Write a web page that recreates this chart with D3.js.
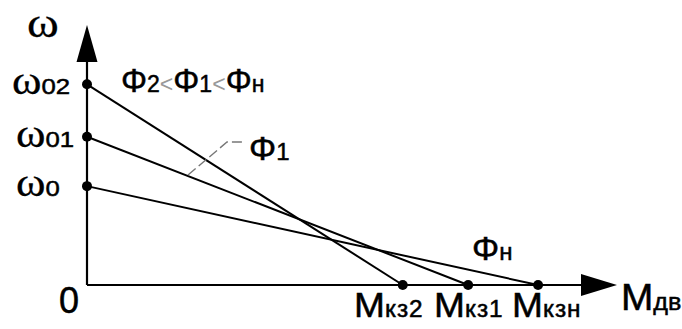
<!DOCTYPE html>
<html>
<head>
<meta charset="utf-8">
<script src="https://cdn.jsdelivr.net/npm/d3@7"></script>
<style>
  html, body { margin: 0; padding: 0; background: #fff; }
  svg { display: block; }
</style>
</head>
<body>
<svg id="chart" width="682" height="329"></svg>
<script>
// Mechanical characteristics ω(M) of a DC motor for three field fluxes
const fluxNames   = ["н", "1", "2"];          // Φн > Φ1 > Φ2
const idleSpeeds  = [1.0, 1.5, 2.03];         // ω0, ω01, ω02 (relative units)
const speedSubs   = ["0", "01", "02"];
const stallTorque = [1.0, 0.845, 0.70];       // Mкзн, Mкз1, Mкз2 (relative units)
const torqueSubs  = ["кзн", "кз1", "кз2"];

const svg = d3.select("#chart");
const x = d3.scaleLinear().domain([0, 1.175]).range([87, 617]);
const y = d3.scaleLinear().domain([0, 2.63]).range([285, 25]);

const sans = "'Liberation Sans', Arial, sans-serif";
const serif = "'Liberation Serif', 'Times New Roman', serif";

// axes with filled arrowheads
svg.append("line").attr("x1", x(0)).attr("y1", y(0)).attr("x2", x(1.175) - 20).attr("y2", y(0))
  .attr("stroke", "#000").attr("stroke-width", 2.2);
svg.append("line").attr("x1", x(0)).attr("y1", y(0)).attr("x2", x(0)).attr("y2", y(2.63) + 20)
  .attr("stroke", "#000").attr("stroke-width", 2.2);
const xt = x(1.175), yt = y(2.63);
svg.append("path").attr("d", `M${xt},${y(0)} L${xt - 36},${y(0) - 11} L${xt - 36},${y(0) + 11} Z`).attr("fill", "#000");
svg.append("path").attr("d", `M${x(0)},${yt} L${x(0) - 10.5},${yt + 37} L${x(0) + 10.5},${yt + 37} Z`).attr("fill", "#000");

// characteristic lines
const lines = d3.range(3).map(i => [[0, idleSpeeds[i]], [stallTorque[i], 0]]);
svg.selectAll("path.char").data(lines).enter().append("path")
  .attr("class", "char")
  .attr("d", d3.line().x(d => x(d[0])).y(d => y(d[1])))
  .attr("stroke", "#000").attr("stroke-width", 2).attr("fill", "none");

// end points
svg.selectAll("circle.w").data(idleSpeeds).enter().append("circle")
  .attr("cx", x(0)).attr("cy", d => y(d)).attr("r", 5).attr("fill", "#000");
svg.selectAll("circle.m").data(stallTorque).enter().append("circle")
  .attr("cx", d => x(d)).attr("cy", y(0)).attr("r", 5).attr("fill", "#000");

// text helper: main glyph + subscript, horizontally stretched
function label(px, py, parts, sx) {
  const t = svg.append("text").attr("transform", `translate(${px},${py}) scale(${sx || 1},1)`);
  parts.forEach(p => {
    t.append("tspan").text(p.t)
      .attr("font-family", p.f || sans)
      .attr("font-size", p.s)
      .attr("fill", p.c || "#000")
      .attr("stroke", p.c || "#000")
      .attr("stroke-width", p.sw === undefined ? 0.5 : p.sw)
      .attr("letter-spacing", p.ls || 0);
  });
  return t;
}

// axis titles
label(27, 37, [{ t: "ω", f: serif, s: 42, sw: 0.3 }], 1.15);
label(621, 310, [{ t: "M", s: 37 }, { t: "дв", s: 24 }], 1.05);
label(59, 313, [{ t: "0", s: 36 }], 1.0);

// idle speed labels
const wLabelX = [16, 16, 12];
idleSpeeds.forEach((v, i) => {
  label(wLabelX[i], y(v) + 10, [{ t: "ω", f: serif, s: 40, sw: 0.3 }, { t: speedSubs[i], s: 23 }], 1.12);
});

// stall torque labels
const mLabelX = [512, 434, 354];
stallTorque.forEach((v, i) => {
  label(mLabelX[i], 317, [{ t: "M", s: 35 }, { t: torqueSubs[i], s: 23, ls: 1 }], 1.06);
});

// flux relation
label(121, 92, [
  { t: "Φ", s: 34 }, { t: "2", s: 24 }, { t: "<", s: 24, c: "#999", sw: 0 },
  { t: "Φ", s: 34 }, { t: "1", s: 24 }, { t: "<", s: 24, c: "#999", sw: 0 },
  { t: "Φ", s: 34 }, { t: "н", s: 24 }
], 0.96);

// Φ1 leader and label
svg.append("path").attr("d", "M188,175 L227,142 L243,142")
  .attr("stroke", "#777").attr("stroke-width", 1.4).attr("fill", "none")
  .attr("stroke-dasharray", "10,4");
label(249, 160, [{ t: "Φ", s: 34 }, { t: fluxNames[1], s: 24 }], 1.0);

// Φн label
label(472, 260, [{ t: "Φ", s: 34 }, { t: fluxNames[0], s: 24 }], 1.0);
</script>
</body>
</html>
